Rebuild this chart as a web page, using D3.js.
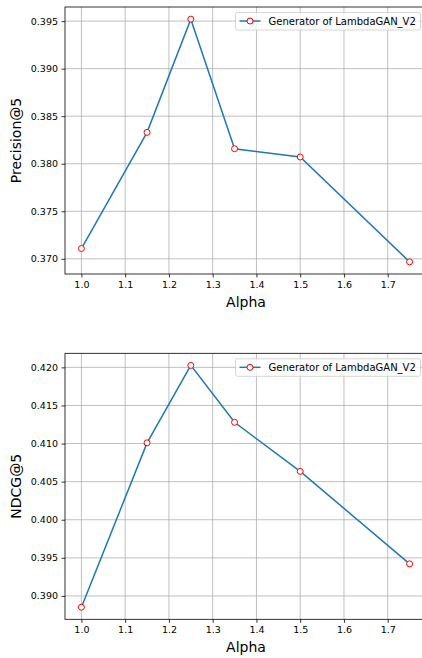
<!DOCTYPE html>
<html>
<head>
<meta charset="utf-8">
<script src="https://cdn.jsdelivr.net/npm/d3@7"></script>
<style>
  html, body { margin: 0; padding: 0; background: #fff; }
  svg { display: block; font-family: "DejaVu Sans", sans-serif; }
  .grid line { stroke: #b0b0b0; stroke-width: 0.8; }
  .axis path, .axis line { stroke: #000; stroke-width: 0.8; }
  .axis text { fill: #000; font-size: 9.5px; font-family: "DejaVu Sans", sans-serif; }
</style>
</head>
<body>
<svg id="chart" width="422" height="658"></svg>
<script>
// Alpha values along x
const alphas = [1.0, 1.15, 1.25, 1.35, 1.5, 1.75];
const xTicks = [1.0, 1.1, 1.2, 1.3, 1.4, 1.5, 1.6, 1.7];

const precision5 = [0.37108, 0.38330, 0.39521, 0.38158, 0.38071, 0.36968];
const ndcg5      = [0.38852, 0.41009, 0.42026, 0.41279, 0.40635, 0.39421];

const precTicks = [0.370, 0.375, 0.380, 0.385, 0.390, 0.395];
const ndcgTicks = [0.390, 0.395, 0.400, 0.405, 0.410, 0.415, 0.420];

const seriesName = "Generator of LambdaGAN_V2";

const svg = d3.select('#chart');

// one panel = one subplot
function panel(top, bottom, values, yTicks, yLabel) {
  const left = 65, right = 426;
  // matplotlib style 5% margins
  const xr = d3.extent(alphas), xpad = (xr[1] - xr[0]) * 0.05;
  const yr = d3.extent(values), ypad = (yr[1] - yr[0]) * 0.05;

  const x = d3.scaleLinear().domain([xr[0] - xpad, xr[1] + xpad]).range([left, right]);
  const y = d3.scaleLinear().domain([yr[0] - ypad, yr[1] + ypad]).range([bottom, top]);

  const g = svg.append('g');

  // grid
  const grid = g.append('g').attr('class', 'grid');
  grid.selectAll('line.v').data(xTicks).join('line')
    .attr('class', 'v')
    .attr('x1', d => x(d)).attr('x2', d => x(d))
    .attr('y1', top).attr('y2', bottom);
  grid.selectAll('line.h').data(yTicks).join('line')
    .attr('class', 'h')
    .attr('x1', left).attr('x2', right)
    .attr('y1', d => y(d)).attr('y2', d => y(d));

  // line + markers
  const pts = alphas.map((a, i) => [a, values[i]]);
  g.append('path')
    .datum(pts)
    .attr('fill', 'none')
    .attr('stroke', '#1f77b4')
    .attr('stroke-width', 1.5)
    .attr('d', d3.line().x(d => x(d[0])).y(d => y(d[1])));

  g.selectAll('circle.pt').data(pts).join('circle')
    .attr('class', 'pt')
    .attr('cx', d => x(d[0])).attr('cy', d => y(d[1]))
    .attr('r', 3)
    .attr('fill', '#fff')
    .attr('stroke', 'red')
    .attr('stroke-width', 1);

  // spines
  g.append('rect')
    .attr('x', left).attr('y', top)
    .attr('width', right - left).attr('height', bottom - top)
    .attr('fill', 'none').attr('stroke', '#000').attr('stroke-width', 0.8);

  // axes
  const xAxis = d3.axisBottom(x).tickValues(xTicks).tickFormat(d3.format('.1f'))
    .tickSize(3.5).tickPadding(3.5);
  g.append('g').attr('class', 'axis')
    .attr('transform', `translate(0,${bottom})`)
    .call(xAxis)
    .call(a => a.select('.domain').remove());

  const yAxis = d3.axisLeft(y).tickValues(yTicks).tickFormat(d3.format('.3f'))
    .tickSize(3.5).tickPadding(3.5);
  g.append('g').attr('class', 'axis')
    .attr('transform', `translate(${left},0)`)
    .call(yAxis)
    .call(a => a.select('.domain').remove());

  // axis labels
  g.append('text')
    .attr('x', 246).attr('y', bottom + 33)
    .attr('text-anchor', 'middle')
    .style('font-size', '14px')
    .text('Alpha');

  g.append('text')
    .attr('transform', `translate(21,${(top + bottom) / 2}) rotate(-90)`)
    .attr('text-anchor', 'middle')
    .style('font-size', '14px')
    .text(yLabel);

  // legend
  const lg = g.append('g').attr('transform', `translate(235.5,${top + 5.5})`);
  lg.append('rect')
    .attr('width', 185).attr('height', 17.5)
    .attr('rx', 2)
    .attr('fill', 'rgba(255,255,255,0.8)')
    .attr('stroke', '#cccccc').attr('stroke-width', 0.8);
  lg.append('line')
    .attr('x1', 4).attr('x2', 25).attr('y1', 8.5).attr('y2', 8.5)
    .attr('stroke', '#1f77b4').attr('stroke-width', 1.5);
  lg.append('circle')
    .attr('cx', 14.5).attr('cy', 8.5).attr('r', 3)
    .attr('fill', '#fff').attr('stroke', 'red').attr('stroke-width', 1);
  lg.append('text')
    .attr('x', 33).attr('y', 12.3)
    .style('font-size', '10px')
    .text(seriesName);
}

panel(7, 274, precision5, precTicks, 'Precision@5');
panel(353.3, 619.3, ndcg5, ndcgTicks, 'NDCG@5');
</script>
</body>
</html>
